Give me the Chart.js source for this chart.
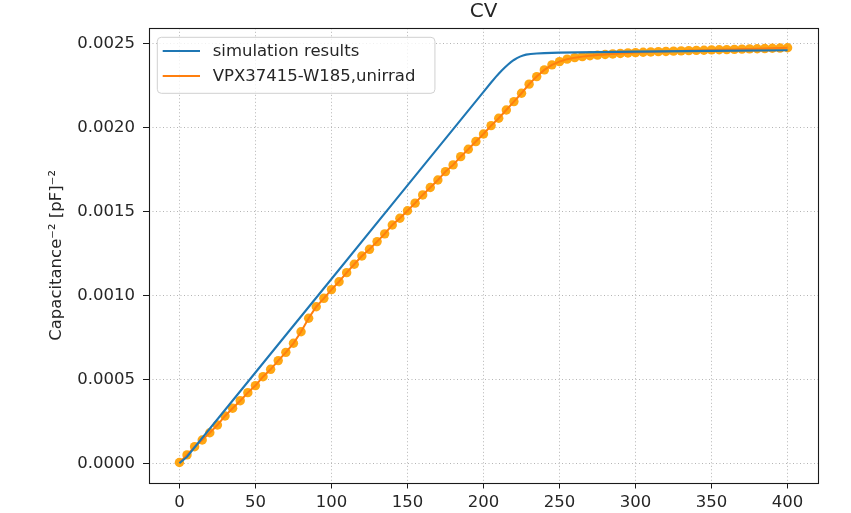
<!DOCTYPE html>
<html>
<head>
<meta charset="utf-8">
<script src="https://cdn.jsdelivr.net/npm/chart.js@4.4.1/dist/chart.umd.min.js"></script>
<style>
html,body{margin:0;padding:0;background:#fff;}
#wrap{width:851px;height:513px;}
</style>
</head>
<body>
<div id="wrap"><canvas id="c" width="851" height="513"></canvas></div>
<script>
// ---- data ----
const chartTitle = 'CV';
const yAxisTitle = 'Capacitance\u207B\u00B2 [pF]\u207B\u00B2';
const seriesNames = ['simulation results', 'VPX37415-W185,unirrad'];

const xTicks = [0, 50, 100, 150, 200, 250, 300, 350, 400];
const yTicks = [0, 0.0005, 0.0010, 0.0015, 0.0020, 0.0025];
const yTickLabels = ['0.0000', '0.0005', '0.0010', '0.0015', '0.0020', '0.0025'];

const simVoltage = [0, 5, 50, 100, 150, 200, 205, 208, 210, 212, 214, 216, 218, 220, 222, 224, 226, 228, 231, 235, 240, 250, 275, 300, 350, 400];
const simValues  = [0, 0.000039, 0.000541, 0.001098, 0.001656, 0.002213, 0.002269, 0.002301, 0.002321, 0.002340, 0.002358, 0.002375, 0.002390, 0.002403, 0.002414, 0.002423, 0.002430, 0.002435, 0.002439, 0.002442, 0.002444, 0.002447, 0.002450, 0.002453, 0.002457, 0.002461];

const measVoltage = [0, 5, 10, 15, 20, 25, 30, 35, 40, 45, 50, 55, 60, 65, 70, 75, 80, 85, 90, 95,
  100, 105, 110, 115, 120, 125, 130, 135, 140, 145, 150, 155, 160, 165, 170, 175, 180, 185, 190, 195,
  200, 205, 210, 215, 220, 225, 230, 235, 240, 245, 250, 255, 260, 265, 270, 275, 280, 285, 290, 295,
  300, 305, 310, 315, 320, 325, 330, 335, 340, 345, 350, 355, 360, 365, 370, 375, 380, 385, 390, 395, 400];
const measValues = [0.000005, 0.000050, 0.000099, 0.000139, 0.000182, 0.000228, 0.000282, 0.000328, 0.000373, 0.000421,
  0.000463, 0.000516, 0.000560, 0.000612, 0.000661, 0.000715, 0.000784, 0.000864, 0.000933, 0.000983,
  0.001035, 0.001082, 0.001136, 0.001186, 0.001235, 0.001275, 0.001321, 0.001367, 0.001420, 0.001460,
  0.001505, 0.001550, 0.001599, 0.001643, 0.001688, 0.001738, 0.001778, 0.001827, 0.001871, 0.001917,
  0.001962, 0.002012, 0.002056, 0.002105, 0.002155, 0.002205, 0.002259, 0.002304, 0.002344, 0.002374,
  0.002393, 0.002408, 0.002417, 0.002423, 0.002428, 0.002432, 0.002436, 0.002439, 0.002442, 0.002445,
  0.002447, 0.002449, 0.002451, 0.002453, 0.002454, 0.002456, 0.002457, 0.002459, 0.002460, 0.002461,
  0.002463, 0.002464, 0.002465, 0.002466, 0.002468, 0.002469, 0.002470, 0.002471, 0.002473, 0.002474, 0.002476];

// ---- styles ----
const FONT = "'DejaVu Sans', sans-serif";
const FS = 16.5;
const TXT = '#262626';
const BLUE = '#1f77b4';
const ORANGE = '#ff7f0e';
const MARKER = 'rgba(255,160,0,0.92)';

const toXY = (xs, ys) => xs.map((x, i) => ({x: x, y: ys[i]}));

const framePlugin = {
  id: 'frame',
  afterDatasetsDraw(chart) {
    const {ctx, chartArea: a} = chart;
    ctx.save();
    ctx.strokeStyle = '#1a1a1a';
    ctx.lineWidth = 1.1;
    ctx.strokeRect(Math.round(a.left) + 0.5, Math.round(a.top) + 0.5,
      Math.round(a.right) - Math.round(a.left), Math.round(a.bottom) - Math.round(a.top));
    ctx.restore();
  }
};

const legendPlugin = {
  id: 'mplLegend',
  afterDraw(chart) {
    const {ctx, chartArea: a} = chart;
    const colors = [BLUE, ORANGE];
    ctx.save();
    ctx.font = FS + 'px ' + FONT;
    let maxW = 0;
    seriesNames.forEach(n => { maxW = Math.max(maxW, ctx.measureText(n).width); });
    const bx = a.left + 8.3, by = a.top + 9;
    const bw = 13.7 + 37 + 12.7 + maxW + 11.5, bh = 56;
    const r = 4;
    ctx.beginPath();
    ctx.moveTo(bx + r, by);
    ctx.lineTo(bx + bw - r, by);
    ctx.quadraticCurveTo(bx + bw, by, bx + bw, by + r);
    ctx.lineTo(bx + bw, by + bh - r);
    ctx.quadraticCurveTo(bx + bw, by + bh, bx + bw - r, by + bh);
    ctx.lineTo(bx + r, by + bh);
    ctx.quadraticCurveTo(bx, by + bh, bx, by + bh - r);
    ctx.lineTo(bx, by + r);
    ctx.quadraticCurveTo(bx, by, bx + r, by);
    ctx.closePath();
    ctx.fillStyle = 'rgba(255,255,255,0.8)';
    ctx.fill();
    ctx.strokeStyle = '#d0d0d0';
    ctx.lineWidth = 1;
    ctx.stroke();
    seriesNames.forEach((n, i) => {
      const y = by + 13.7 + i * 25;
      ctx.beginPath();
      ctx.strokeStyle = colors[i];
      ctx.lineWidth = 2;
      ctx.moveTo(bx + 5.4, y);
      ctx.lineTo(bx + 42.7, y);
      ctx.stroke();
      ctx.fillStyle = TXT;
      ctx.textBaseline = 'middle';
      ctx.textAlign = 'left';
      ctx.fillText(n, bx + 55.4, y + 1);
    });
    ctx.restore();
  }
};

const gridOpts = {color: '#b4b4b4', lineWidth: 1, drawTicks: true,
  tickLength: 6, tickColor: '#1a1a1a', tickWidth: 1, tickBorderDash: []};

new Chart(document.getElementById('c'), {
  type: 'line',
  data: {
    datasets: [
      {
        label: seriesNames[0],
        data: toXY(simVoltage, simValues),
        borderColor: BLUE, borderWidth: 2.1, pointRadius: 0, tension: 0, order: 0
      },
      {
        label: seriesNames[1],
        data: toXY(measVoltage, measValues),
        borderColor: ORANGE, borderWidth: 2, pointRadius: 0, tension: 0, order: 1
      },
      {
        label: seriesNames[1] + ' markers',
        data: toXY(measVoltage, measValues),
        showLine: false, pointRadius: 4.7, pointBorderWidth: 0,
        pointBackgroundColor: MARKER, pointBorderColor: MARKER, order: 2
      }
    ]
  },
  options: {
    responsive: false,
    animation: false,
    devicePixelRatio: 1,
    layout: {padding: {left: 0, right: 33, top: 0, bottom: 0}},
    plugins: {
      legend: {display: false},
      tooltip: {enabled: false},
      title: {
        display: true, text: chartTitle, fullSize: false,
        color: TXT, font: {family: FONT, size: 20, weight: 'normal'},
        padding: {top: 0, bottom: 4.3}
      }
    },
    scales: {
      x: {
        type: 'linear', min: -20, max: 420,
        afterBuildTicks: s => { s.ticks = xTicks.map(v => ({value: v})); },
        afterFit: s => { s.height = 30.5; },
        ticks: {color: TXT, font: {family: FONT, size: FS}, padding: 4, maxRotation: 0,
          callback: v => String(v)},
        grid: gridOpts,
        border: {display: false, dash: [1, 2.5]}
      },
      y: {
        type: 'linear', min: -0.0001144, max: 0.0025918,
        afterBuildTicks: s => { s.ticks = yTicks.map(v => ({value: v})); },
        afterFit: s => { s.width = 149; },
        ticks: {color: TXT, font: {family: FONT, size: FS}, padding: 8,
          callback: v => { const i = yTicks.findIndex(t => Math.abs(t - v) < 1e-9); return i >= 0 ? yTickLabels[i] : ''; }},
        grid: gridOpts,
        border: {display: false, dash: [1, 2.5]},
        title: {display: true, text: yAxisTitle, color: TXT,
          font: {family: FONT, size: FS}, padding: {top: 47, bottom: 0}}
      }
    }
  },
  plugins: [framePlugin, legendPlugin]
});
</script>
</body>
</html>
